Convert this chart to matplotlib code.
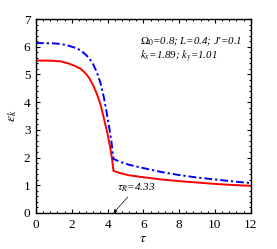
import numpy as np
import matplotlib.pyplot as plt
from matplotlib.ticker import MultipleLocator

plt.rcParams['font.family'] = ['Liberation Serif', 'DejaVu Serif']
plt.rcParams['mathtext.fontset'] = 'stix'

# Values
tau_red = [0, 0.5, 1.0, 1.4, 1.8, 2.2, 2.5, 2.8, 3.0, 3.2, 3.4, 3.6, 3.8, 4.0,
           4.15, 4.25, 4.33, 4.7, 5.2, 6, 7, 8, 9, 10, 11, 12]
eps_red = [5.50, 5.50, 5.49, 5.47, 5.40, 5.30, 5.20, 5.02, 4.84, 4.60, 4.30, 3.93,
           3.40, 2.85, 2.35, 1.95, 1.52, 1.44, 1.36, 1.29, 1.21, 1.15, 1.10, 1.05,
           1.01, 0.98]

tau_blue = [0, 0.5, 1.0, 1.4, 1.8, 2.2, 2.5, 2.8, 3.0, 3.2, 3.4, 3.6, 3.8, 3.95,
            4.1, 4.2, 4.33, 4.7, 5.2, 6, 7, 8, 9, 10, 11, 12]
eps_blue = [6.13, 6.13, 6.12, 6.10, 6.04, 5.96, 5.87, 5.70, 5.56, 5.36, 5.08, 4.70,
            4.15, 3.62, 3.05, 2.65, 1.95, 1.85, 1.74, 1.62, 1.48, 1.37, 1.28, 1.21,
            1.14, 1.08]

tau_R = 4.33
params_line1 = r"$\mathit{\Omega}_{\mathit{0}}$=0.8; L=0.4; J'=0.1"
params_line2 = r"$k_x$=1.89; $k_y$=1.01"

fig = plt.figure(figsize=(2.77, 2.49), dpi=100)
ax = fig.add_axes([0.130, 0.1446, 0.775, 0.779])

ax.plot(tau_red, eps_red, '-', color='red', linewidth=1.4)
ax.plot(tau_blue, eps_blue, color='blue', linewidth=1.4, dashes=(4, 1.5, 1.2, 1.5))

ax.set_xlim(0, 12)
ax.set_ylim(0, 7)
ax.xaxis.set_major_locator(MultipleLocator(2))
ax.xaxis.set_minor_locator(MultipleLocator(0.4))
ax.yaxis.set_major_locator(MultipleLocator(1))
ax.yaxis.set_minor_locator(MultipleLocator(0.2))
ax.tick_params(which='both', direction='in', top=True, right=True,
               labelsize=9.5, width=0.8, pad=4)
ax.tick_params(which='major', length=3)
ax.tick_params(which='minor', length=1.6)
for s in ax.spines.values():
    s.set_linewidth(1.0)

ax.set_xlabel(r"$\tau$", fontsize=10, labelpad=1)
ax.set_ylabel(r"$\epsilon_k$", fontsize=10, labelpad=3)

ax.text(0.484, 0.887, params_line1, transform=ax.transAxes, fontsize=7.8,
        fontstyle='italic', va='center')
ax.text(0.484, 0.804, params_line2, transform=ax.transAxes, fontsize=7.8,
        fontstyle='italic', va='center')

ax.annotate(r"$\tau_R$=4.33", xy=(tau_R, 0), xytext=(4.5, 0.8),
            fontsize=8, fontstyle='italic',
            arrowprops=dict(arrowstyle='-|>', color='black', lw=0.5,
                            mutation_scale=5, shrinkA=0, shrinkB=0))

fig.savefig('out.png', dpi=100)
